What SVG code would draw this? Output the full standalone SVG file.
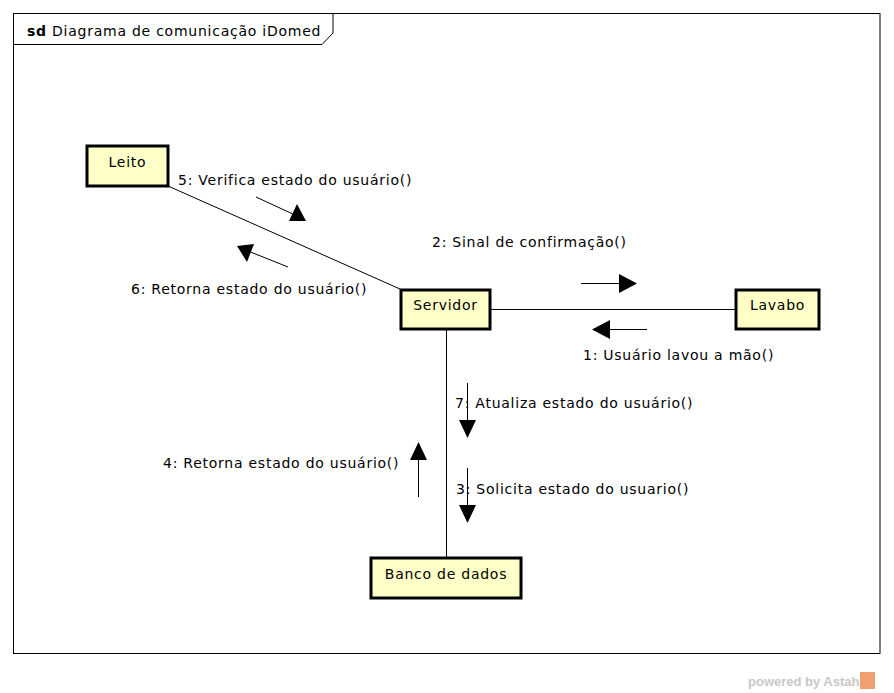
<svg xmlns="http://www.w3.org/2000/svg" width="894" height="693" viewBox="0 0 894 693">
<style>
text{font-family:"DejaVu Sans","Verdana",sans-serif;font-size:14px;fill:#000}
.lbl{letter-spacing:0.75px}
.node rect{fill:#ffffc8;stroke:#000;stroke-width:3}
.c{stroke:#000;stroke-width:1;fill:none}
.ah{fill:#000;stroke:none}
</style>
<rect width="894" height="693" fill="#fff"/>
<g id="frame">
<rect x="13.5" y="13.5" width="866.5" height="640" fill="none" stroke="#000" stroke-width="1"/>
<path d="M13.5 44.5 H322 L333 33 V13.5" fill="none" stroke="#000" stroke-width="1"/>
<text x="27" y="36" class="lbl"><tspan font-weight="bold">sd</tspan> Diagrama de comunicação iDomed</text>
</g>
<g id="connectors">
<line class="c" x1="168" y1="186" x2="400" y2="289"/>
<line class="c" x1="491" y1="309.5" x2="735" y2="309.5"/>
<line class="c" x1="446.5" y1="330" x2="446.5" y2="558"/>
<!-- 5 -->
<line class="c" x1="256" y1="197" x2="295" y2="215"/>
<polygon class="ah" points="306,221 289,221 297,204"/>
<!-- 6 -->
<line class="c" x1="288" y1="267" x2="248" y2="251"/>
<polygon class="ah" points="237,246 254,244 247,262"/>
<!-- 2 -->
<line class="c" x1="581" y1="283.5" x2="625" y2="283.5"/>
<polygon class="ah" points="637,283.5 619,274 619,293"/>
<!-- 1 -->
<line class="c" x1="647" y1="329.5" x2="600" y2="329.5"/>
<polygon class="ah" points="592,329.5 610,320 610,339"/>
<!-- 7 -->
<line class="c" x1="467.5" y1="383" x2="467.5" y2="425"/>
<polygon class="ah" points="467.5,438 459,420 476,420"/>
<!-- 3 -->
<line class="c" x1="467.5" y1="468" x2="467.5" y2="510"/>
<polygon class="ah" points="467.5,523 459,505 476,505"/>
<!-- 4 -->
<line class="c" x1="418.5" y1="497" x2="418.5" y2="455"/>
<polygon class="ah" points="418.5,442 410,460 427,460"/>
<text x="178" y="185" class="lbl">5: Verifica estado do usuário()</text>
<text x="131" y="294" class="lbl">6: Retorna estado do usuário()</text>
<text x="432" y="247" class="lbl">2: Sinal de confirmação()</text>
<text x="583" y="360" class="lbl">1: Usuário lavou a mão()</text>
<text x="455" y="408" class="lbl">7: Atualiza estado do usuário()</text>
<text x="163" y="468" class="lbl">4: Retorna estado do usuário()</text>
<text x="456" y="494" class="lbl">3: Solicita estado do usuario()</text>
</g>
<g id="Leito" class="node"><rect x="87" y="146" width="81" height="40"/><text x="127.5" y="167" text-anchor="middle" class="lbl">Leito</text></g>
<g id="Servidor" class="node"><rect x="401" y="290" width="89" height="39"/><text x="445.5" y="310" text-anchor="middle" class="lbl">Servidor</text></g>
<g id="Lavabo" class="node"><rect x="736" y="290" width="83" height="39"/><text x="777.5" y="310" text-anchor="middle" class="lbl">Lavabo</text></g>
<g id="Banco" class="node"><rect x="371" y="558" width="150" height="40"/><text x="446" y="579" text-anchor="middle" class="lbl">Banco de dados</text></g>
<g id="watermark">
<text x="748" y="686" style="font-family:'Liberation Sans',Arial,sans-serif;font-size:13px;font-weight:bold;fill:#c8c8c8">powered by Astah</text>
<rect x="860" y="672" width="15" height="17" fill="#f0a070"/>
</g>
</svg>
